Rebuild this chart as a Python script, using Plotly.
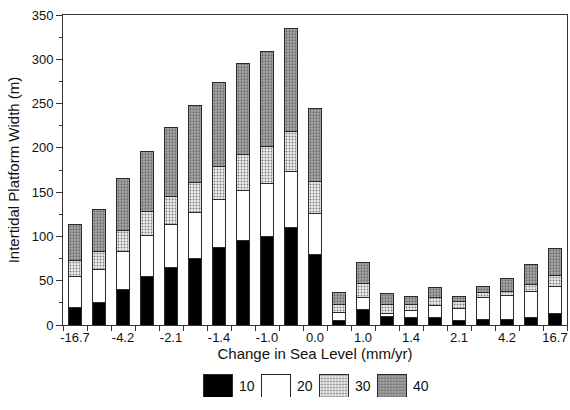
import plotly.graph_objects as go

# ---------------- data ----------------
rates = ["-16.7", "-8.3", "-4.2", "-2.8", "-2.1", "-1.7", "-1.4", "-1.2", "-1.0", "-0.5",
         "0.0", "0.5", "1.0", "1.2", "1.4", "1.7", "2.1", "2.8", "4.2", "8.3", "16.7"]
tick_labels = ["-16.7", "-4.2", "-2.1", "-1.4", "-1.0", "0.0", "1.0", "1.4", "2.1", "4.2", "16.7"]

series_names = ["10", "20", "30", "40"]
w10 = [20, 25, 40, 55, 65, 75, 87, 95, 100, 110, 80, 5, 17, 10, 8, 9, 5, 6, 6, 8, 13]
w20 = [35, 38, 43, 46, 49, 52, 55, 57, 60, 63, 46, 9, 14, 3, 8, 13, 14, 25, 27, 30, 31]
w30 = [18, 20, 24, 27, 31, 34, 37, 41, 41, 46, 36, 9, 16, 10, 7, 9, 7, 6, 5, 8, 12]
w40 = [41, 47, 58, 68, 78, 87, 95, 102, 108, 116, 83, 14, 24, 13, 9, 11, 6, 7, 15, 22, 30]
series_values = [w10, w20, w30, w40]

y_ticks = [0, 50, 100, 150, 200, 250, 300, 350]

# ---------------- styles ----------------
FONT = "Liberation Sans, Arial, Helvetica, sans-serif"
OUTLINE = dict(color="#2a2a2a", width=1)
styles = [
    dict(color="#000000"),
    dict(color="#ffffff"),
    dict(color="#d8d8d8", pattern=dict(shape=".", fgcolor="#7a7a7a", bgcolor="#eeeeee",
                                        size=3, solidity=0.3, fillmode="replace")),
    dict(color="#a0a0a0", pattern=dict(shape=".", fgcolor="#707070", bgcolor="#adadad",
                                        size=3, solidity=0.45, fillmode="replace")),
]

W, H = 570, 410
ML, MR, MT, MB = 63, 3, 15, 10
plot_w = W - ML - MR
plot_h = H - MT - MB


def py_to_paper(py):
    return (H - MB - py) / plot_h


def px_to_paper(px):
    return (px - ML) / plot_w


fig = go.Figure()

for name, vals, st in zip(series_names, series_values, styles):
    fig.add_trace(go.Bar(
        x=rates, y=vals, name=name, width=0.58,
        marker=dict(**st, line=OUTLINE),
        showlegend=False, xaxis="x", yaxis="y",
    ))

# legend swatches drawn as bars on a small auxiliary axis
for i, (name, st) in enumerate(zip(series_names, styles)):
    fig.add_trace(go.Bar(
        x=[i], y=[1], width=0.5, marker=dict(**st, line=OUTLINE),
        showlegend=False, xaxis="x2", yaxis="y2", hoverinfo="skip",
    ))
    fig.add_annotation(
        x=i + 0.34, y=0.5, xref="x2", yref="y2", text=name, showarrow=False,
        xanchor="left", yanchor="middle", font=dict(family=FONT, size=14, color="#111"),
    )

fig.update_layout(
    width=W, height=H,
    margin=dict(l=ML, r=MR, t=MT, b=MB, autoexpand=False),
    paper_bgcolor="white", plot_bgcolor="white",
    barmode="stack",
    showlegend=False,
    font=dict(family=FONT, color="#111"),
    xaxis=dict(
        type="category", domain=[0, 1], anchor="y", automargin=False,
        tickmode="array", tickvals=rates,
        ticktext=[r if r in tick_labels else "" for r in rates],
        tickangle=0,
        tickson="boundaries", ticks="outside", ticklen=5, tickcolor="#333", tickwidth=1,
        showline=True, linecolor="#333", linewidth=1, mirror=True,
        showgrid=False, zeroline=False,
        tickfont=dict(family=FONT, size=13, color="#111"),
        title=dict(text="Change in Sea Level (mm/yr)", standoff=4,
                   font=dict(family=FONT, size=15, color="#111")),
    ),
    yaxis=dict(
        domain=[py_to_paper(325), 1], anchor="x", automargin=False,
        range=[0, 350], tickvals=y_ticks,
        ticks="outside", ticklen=6, tickcolor="#333", tickwidth=1,
        minor=dict(ticks="outside", ticklen=3, dtick=25, tickcolor="#333", showgrid=False),
        showline=True, linecolor="#333", linewidth=1, mirror=True,
        showgrid=False, zeroline=False,
        tickfont=dict(family=FONT, size=13, color="#111"),
        title=dict(text="Intertidal Platform Width (m)", standoff=8,
                   font=dict(family=FONT, size=15, color="#111")),
    ),
    xaxis2=dict(
        domain=[px_to_paper(188.5), px_to_paper(420.5)], anchor="y2",
        range=[-0.5, 3.5], visible=False, fixedrange=True,
    ),
    yaxis2=dict(
        domain=[py_to_paper(397), py_to_paper(374)], anchor="x2",
        range=[0, 1], visible=False, fixedrange=True,
    ),
)

fig.write_html("out.html", config={"displayModeBar": False},
               post_script="document.body.style.margin='0';document.body.style.overflow='hidden';")
